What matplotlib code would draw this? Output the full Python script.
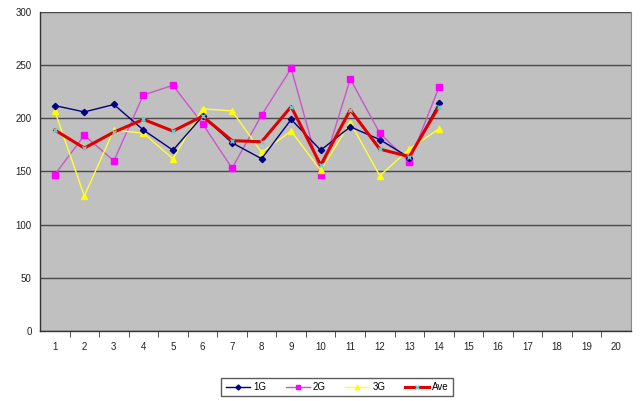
import matplotlib
matplotlib.use("Agg")
import matplotlib.pyplot as plt

# --- data ---
games = list(range(1, 21))
g1 = [212, 206, 213, 189, 170, 202, 177, 162, 199, 170, 192, 180, 163, 214]
g2 = [147, 184, 160, 222, 231, 195, 153, 203, 247, 147, 237, 186, 159, 229]
g3 = [207, 127, 189, 186, 162, 209, 207, 168, 188, 151, 196, 146, 171, 190]
ave = [189, 172, 187, 199, 188, 202, 179, 178, 211, 156, 208, 171, 164, 211]
y_ticks = [0, 50, 100, 150, 200, 250, 300]

BG = "#c0c0c0"
GRID = "#4a4a4a"
TXT = "#222222"

plt.rcParams["font.family"] = ["Liberation Sans", "DejaVu Sans"]

fig = plt.figure(figsize=(6.4, 4.01), dpi=100, facecolor="white")
ax = fig.add_axes([0.0625, 0.1746, 0.9234, 0.7955])
ax.set_facecolor(BG)

x = games[:len(g1)]
ax.plot(x, g1, color="#000080", lw=1.0, marker="D", ms=3.2,
        mec="#000080", mfc="#000080", label="1G", zorder=4)
ax.plot(x, g2, color="#cc55cc", lw=1.0, marker="s", ms=4.0,
        mec="#ff00ff", mfc="#ff00ff", label="2G", zorder=3)
ax.plot(x, g3, color="#ffff33", lw=1.0, marker="^", ms=4.0,
        mec="#ffff00", mfc="#ffff00", label="3G", zorder=3)
ax.plot(x, ave, color="#e00000", lw=2.2, marker="x", ms=3.2,
        mec="#66cccc", mew=1.0, label="Ave", zorder=5)

ax.set_xlim(0.5, 20.5)
ax.set_ylim(0, 300)
ax.set_yticks(y_ticks)
ax.yaxis.grid(True, color=GRID, lw=1.0)
ax.set_axisbelow(True)

# category axis: labels centred, ticks on the boundaries
ax.set_xticks(games)
ax.set_xticks([g + 0.5 for g in games[:-1]], minor=True)
ax.tick_params(axis="x", which="major", length=0, pad=8,
               labelsize=7, labelcolor=TXT)
ax.tick_params(axis="x", which="minor", length=4, color="#333333",
               direction="out")
ax.tick_params(axis="y", length=0, pad=6, labelsize=7, labelcolor=TXT)

for side in ("left", "bottom"):
    ax.spines[side].set_color("#333333")
    ax.spines[side].set_linewidth(1.0)
ax.spines["top"].set_visible(False)
ax.spines["right"].set_color("#888888")

leg = fig.legend(loc="center", bbox_to_anchor=(0.527, 0.035), ncol=4,
                 fontsize=7, frameon=True, fancybox=False, edgecolor="#333333",
                 handlelength=2.5, handletextpad=0.3, columnspacing=2.0,
                 borderpad=0.45, markerscale=0.8)
leg.get_frame().set_linewidth(1.0)

fig.savefig("out.png", dpi=100, facecolor="white")
